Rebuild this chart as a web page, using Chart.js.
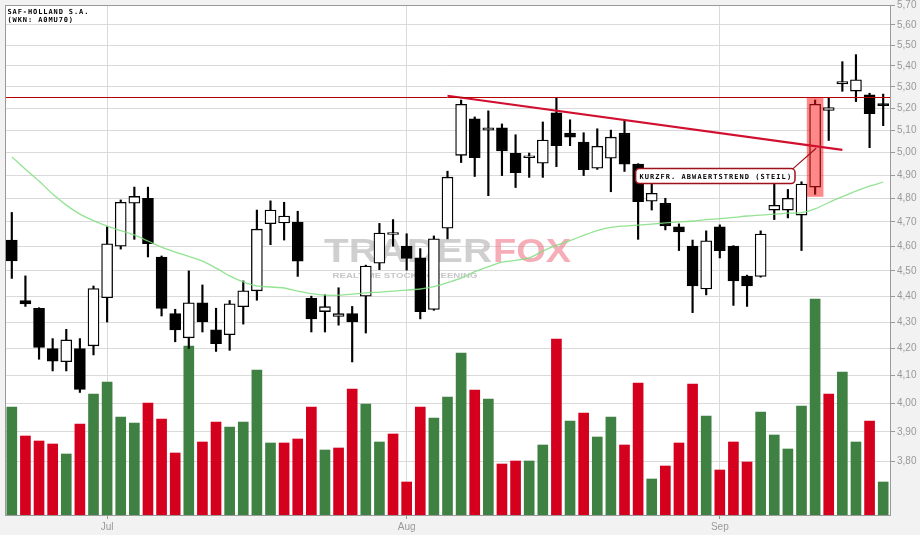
<!DOCTYPE html>
<html><head><meta charset="utf-8">
<script src="https://cdn.jsdelivr.net/npm/chart.js@4.4.1/dist/chart.umd.min.js"></script>
<style>html,body{margin:0;padding:0;background:#f2f2f2;}canvas{display:block;}</style>
</head><body>
<canvas id="c" width="920" height="535"></canvas>
<script>
// ---------- data ----------
const dates = [
 '21.06.2012','22.06.2012','25.06.2012','26.06.2012','27.06.2012','28.06.2012','29.06.2012',
 '02.07.2012','03.07.2012','04.07.2012','05.07.2012','06.07.2012','09.07.2012','10.07.2012','11.07.2012','12.07.2012','13.07.2012',
 '16.07.2012','17.07.2012','18.07.2012','19.07.2012','20.07.2012','23.07.2012','24.07.2012','25.07.2012','26.07.2012','27.07.2012',
 '30.07.2012','31.07.2012',
 '01.08.2012','02.08.2012','03.08.2012','06.08.2012','07.08.2012','08.08.2012','09.08.2012','10.08.2012','13.08.2012','14.08.2012',
 '15.08.2012','16.08.2012','17.08.2012','20.08.2012','21.08.2012','22.08.2012','23.08.2012','24.08.2012','27.08.2012','28.08.2012',
 '29.08.2012','30.08.2012','31.08.2012',
 '03.09.2012','04.09.2012','05.09.2012','06.09.2012','07.09.2012','10.09.2012','11.09.2012','12.09.2012','13.09.2012','14.09.2012',
 '17.09.2012','18.09.2012','19.09.2012'
];
const openP  = [4.625,4.383,4.353,4.20,4.151,4.20,4.21,4.394,4.60,4.779,4.80,4.556,4.332,4.24,4.374,4.27,4.252,4.359,4.421,4.693,4.696,4.70,4.391,4.34,4.321,4.332,4.40,4.531,4.648,4.60,4.553,4.348,4.674,4.987,5.151,5.10,5.11,4.996,4.976,4.952,5.179,5.086,5.046,4.93,4.974,5.086,4.948,4.788,4.779,4.68,4.60,4.428,4.68,4.60,4.479,4.478,4.75,4.75,4.729,4.848,5.19,5.314,5.28,5.262,5.218];
const highP  = [4.74,4.48,4.355,4.237,4.272,4.237,4.44,4.68,4.793,4.848,4.848,4.56,4.349,4.50,4.444,4.353,4.383,4.46,4.75,4.789,4.783,4.745,4.40,4.405,4.433,4.36,4.523,4.694,4.71,4.651,4.59,4.642,4.917,5.238,5.16,5.188,5.128,5.079,4.997,5.137,5.25,5.147,5.088,5.106,5.10,5.146,4.95,4.865,4.80,4.692,4.625,4.663,4.688,4.602,4.483,4.663,4.86,4.838,4.871,5.238,5.25,5.42,5.454,5.27,5.266];
const lowP   = [4.47,4.36,4.16,4.117,4.117,4.039,4.176,4.30,4.588,4.628,4.556,4.323,4.225,4.20,4.262,4.189,4.193,4.292,4.384,4.606,4.625,4.478,4.262,4.262,4.288,4.15,4.258,4.505,4.60,4.503,4.312,4.345,4.63,4.955,4.894,4.811,4.898,4.846,4.89,4.89,4.937,5.03,4.898,4.925,4.828,4.916,4.628,4.75,4.667,4.582,4.336,4.405,4.552,4.364,4.36,4.475,4.71,4.717,4.582,4.817,5.053,5.279,5.231,5.021,5.12];
const closeP = [4.54,4.37,4.204,4.153,4.232,4.05,4.43,4.61,4.783,4.808,4.61,4.352,4.27,4.374,4.30,4.218,4.37,4.421,4.67,4.75,4.725,4.539,4.312,4.359,4.332,4.30,4.519,4.654,4.653,4.55,4.34,4.63,4.891,5.218,4.977,5.11,5.007,4.911,4.98,5.055,5.03,5.068,4.924,5.027,5.068,4.948,4.786,4.821,4.684,4.659,4.44,4.622,4.582,4.46,4.44,4.65,4.77,4.80,4.861,5.218,5.203,5.325,5.333,5.175,5.212];
// relative trading volume (arbitrary units)
const volume = [108,79,74,71,61,91,121,133,98,92,112,96,62,169,73,93,88,93,145,72,72,76,108,65,67,126,111,73,81,33,108,97,118,162,125,116,51,54,54,70,176,94,102,78,98,70,132,36,49,72,131,99,45,73,53,103,80,66,109,216,121,143,73,94,33];
// 1 = volume bar green (close up), 0 = red (close down)
const volumeUp = [1,0,0,0,1,0,1,1,1,1,0,0,0,1,0,0,1,1,1,1,0,0,0,1,0,0,1,1,0,0,0,1,1,1,0,1,0,0,1,1,0,1,0,1,1,0,0,1,0,0,0,1,0,0,0,1,1,1,1,1,0,1,1,0,1];
const movingAvg = [4.980,4.926,4.874,4.818,4.771,4.733,4.706,4.683,4.664,4.646,4.621,4.596,4.576,4.558,4.539,4.511,4.480,4.456,4.440,4.436,4.432,4.420,4.410,4.404,4.404,4.408,4.413,4.416,4.420,4.424,4.428,4.437,4.453,4.471,4.497,4.517,4.535,4.542,4.552,4.580,4.603,4.623,4.644,4.664,4.677,4.683,4.687,4.691,4.696,4.700,4.704,4.710,4.714,4.719,4.725,4.729,4.733,4.737,4.739,4.755,4.782,4.807,4.831,4.852,4.870];
const priceTicks = [3.8,3.9,4.0,4.1,4.2,4.3,4.4,4.5,4.6,4.7,4.8,4.9,5.0,5.1,5.2,5.3,5.4,5.5,5.6,5.7];
const priceMin = 3.622, priceMax = 5.70;
const monthLabels = ['Jul','Aug','Sep'];
const monthStartDates = ['02.07.2012','01.08.2012','03.09.2012'];
const resistanceLevel = 5.25;
const trendStart = {date:'06.08.2012', value:5.258};
const trendEnd   = {date:'14.09.2012', value:5.011};
const highlightDate = '12.09.2012';
const titleLines = ['SAF-HOLLAND S.A.','(WKN: A0MU70)'];
const annotationText = 'KURZFR. ABWAERTSTREND (STEIL)';
const annotationFrom = '24.08.2012', annotationTo = '11.09.2012', annotationLevel = 4.90;

// ---------- derived ----------
const monthAt = {};
monthStartDates.forEach((d,k)=>{ monthAt[dates.indexOf(d)] = monthLabels[k]; });
const wickData = dates.map((d,i)=>[lowP[i], highP[i]]);
const bodyData = dates.map((d,i)=>[openP[i], closeP[i]]);
const trendData = dates.map(d => d===trendStart.date ? trendStart.value : (d===trendEnd.date ? trendEnd.value : null));

const FONT = '"Liberation Sans", Arial, sans-serif';

const bgPlugin = {
  id:'bg',
  beforeDraw(chart){
    const {ctx, chartArea:a} = chart;
    ctx.save();
    ctx.fillStyle = '#f2f2f2'; ctx.fillRect(0,0,chart.width,chart.height);
    ctx.fillStyle = '#ffffff'; ctx.fillRect(a.left,a.top,a.right-a.left,a.bottom-a.top);
    ctx.restore();
  }
};

function stretched(ctx, text, x, y, w, font){
  ctx.font = font;
  const m = ctx.measureText(text).width;
  ctx.save(); ctx.translate(x,y); ctx.scale(w/m,1); ctx.fillText(text,0,0); ctx.restore();
}

const watermark = {
  id:'watermark',
  beforeDatasetsDraw(chart){
    const {ctx, chartArea:a} = chart;
    const cx = (a.left+a.right)/2, cy = (a.top+a.bottom)/2;
    ctx.save();
    ctx.textBaseline = 'alphabetic';
    const g = ctx.createLinearGradient(0, cy-22, 0, cy+3);
    g.addColorStop(0,'rgba(195,195,195,0.8)');
    g.addColorStop(0.5,'rgba(160,160,160,0.8)');
    g.addColorStop(1,'rgba(120,120,120,0.8)');
    ctx.fillStyle = g;
    stretched(ctx,'TRADER', cx-123.5, cy+2.3, 168, 'bold 33px '+FONT);
    ctx.fillStyle = 'rgba(238,120,135,0.6)';
    stretched(ctx,'FOX', cx+45.5, cy+2.3, 78, 'bold 33px '+FONT);
    ctx.fillStyle = 'rgba(185,185,185,0.8)';
    stretched(ctx,'REALTIME STOCK SCREENING', cx-115, cy+17.5, 145, 'bold 8px '+FONT);
    ctx.restore();
  }
};

const highlight = {
  id:'highlight',
  afterDatasetDraw(chart, args){
    if (args.index !== 2) return;
    const {ctx} = chart;
    const xs = chart.scales.x, ys = chart.scales.y;
    const i = dates.indexOf(highlightDate);
    const x = xs.getPixelForValue(i);
    const top = ys.getPixelForValue(highP[i]) - 3;
    const bot = ys.getPixelForValue(lowP[i]) + 2.5;
    ctx.save();
    ctx.fillStyle = 'rgba(255,20,20,0.5)';
    ctx.fillRect(x-8.3, top, 16.6, bot-top);
    ctx.restore();
  }
};

const overlay = {
  id:'overlay',
  afterDatasetsDraw(chart){
    const {ctx, chartArea:a} = chart;
    const xs = chart.scales.x, ys = chart.scales.y;
    ctx.save();
    // resistance line
    const ry = Math.round(ys.getPixelForValue(resistanceLevel)) + 0.5;
    ctx.strokeStyle = '#b80000'; ctx.lineWidth = 1;
    ctx.beginPath(); ctx.moveTo(a.left, ry); ctx.lineTo(a.right, ry); ctx.stroke();

    // annotation
    const bx0 = xs.getPixelForValue(dates.indexOf(annotationFrom)) - 3;
    const bx1 = xs.getPixelForValue(dates.indexOf(annotationTo)) - 7;
    const by0 = ys.getPixelForValue(annotationLevel) - 7;
    const bh = 15;
    const hi = dates.indexOf(highlightDate);
    const tx0 = xs.getPixelForValue(dates.indexOf(trendStart.date)), ty0 = ys.getPixelForValue(trendStart.value);
    const tx1 = xs.getPixelForValue(dates.indexOf(trendEnd.date)), ty1 = ys.getPixelForValue(trendEnd.value);
    const hx = xs.getPixelForValue(hi) + 1;
    const hy = ty0 + (ty1-ty0)*(hx-tx0)/(tx1-tx0) + 2;
    ctx.strokeStyle = '#a0101a'; ctx.lineWidth = 1.2;
    ctx.beginPath(); ctx.moveTo(bx1-2, by0+1); ctx.lineTo(hx, hy); ctx.stroke();
    ctx.beginPath();
    ctx.roundRect(bx0+0.5, by0+0.5, bx1-bx0, bh, 4);
    ctx.fillStyle = '#ffffff'; ctx.fill();
    ctx.lineWidth = 1.5; ctx.strokeStyle = '#a0101a'; ctx.stroke();
    ctx.fillStyle = '#000';
    ctx.font = 'bold 7px "DejaVu Sans Mono", monospace';
    ctx.letterSpacing = '1.05px';
    ctx.textAlign = 'center'; ctx.textBaseline = 'alphabetic';
    ctx.fillText(annotationText, (bx0+bx1)/2 + 1, by0 + 11);

    // title
    ctx.textAlign = 'left';
    ctx.letterSpacing = '0.9px';
    ctx.fillText(titleLines[0], a.left + 2.5, a.top + 9.3);
    ctx.fillText(titleLines[1], a.left + 2.5, a.top + 17.3);
    ctx.restore();
  },
  afterDraw(chart){
    const {ctx, chartArea:a} = chart;
    ctx.save();
    ctx.strokeStyle = '#9a9a9a'; ctx.lineWidth = 1;
    ctx.strokeRect(a.left+0.5, a.top+0.5, a.right-a.left, a.bottom-a.top);
    ctx.restore();
  }
};

new Chart(document.getElementById('c'), {
  type:'bar',
  data:{
    labels: dates,
    datasets:[
      {type:'bar', label:'Volumen', data:volume, yAxisID:'yVol',
       backgroundColor: volumeUp.map(u => u ? '#3f8142' : '#d4001e'),
       barThickness:10, grouped:false, order:10},
      {type:'bar', label:'Docht', data:wickData, yAxisID:'y',
       backgroundColor:'#000', borderWidth:0, barThickness:1.5, grouped:false, order:4},
      {type:'bar', label:'Kerze', data:bodyData, yAxisID:'y',
       backgroundColor: closeP.map((c,i)=> c>=openP[i] ? '#ffffff' : '#000000'),
       borderColor:'#000', borderWidth:1.3, borderSkipped:false, minBarLength:2,
       barThickness:11, grouped:false, order:3},
      {type:'line', label:'GD', data:movingAvg, yAxisID:'y',
       borderColor:'rgba(128,222,128,0.85)', borderWidth:1.3, pointRadius:0, tension:0.3, order:2},
      {type:'line', label:'Trend', data:trendData, yAxisID:'y', spanGaps:true,
       borderColor:'#d1102f', borderWidth:2.2, pointRadius:0, order:1}
    ]
  },
  options:{
    responsive:false, animation:false, devicePixelRatio:1,
    layout:{padding:{top:5,left:5,right:0,bottom:0}},
    plugins:{legend:{display:false}, tooltip:{enabled:false}},
    scales:{
      x:{
        type:'category', offset:true,
        grid:{offset:false, lineWidth:1,
              color: c => monthAt[c.index] ? '#dadada' : 'rgba(0,0,0,0)',
              tickColor: c => monthAt[c.index] ? '#999' : 'rgba(0,0,0,0)',
              tickLength:4, drawTicks:true},
        border:{display:true, color:'#999'},
        ticks:{autoSkip:false, maxRotation:0, minRotation:0, padding:2, color:'#999',
               font:{family:FONT, size:10}, callback:(v,i)=> monthAt[i] || ''},
        afterFit: s => { s.height = 20; s.paddingLeft = 0; s.paddingRight = 0; }
      },
      y:{
        type:'logarithmic', position:'right', min:priceMin, max:priceMax,
        afterBuildTicks: s => { s.ticks = priceTicks.map(v => ({value:v})); },
        grid:{color:'#dadada', tickColor:'#999', tickLength:5, lineWidth:1},
        border:{display:true, color:'#999'},
        ticks:{autoSkip:false, padding:2, color:'#999', font:{family:FONT, size:10},
               callback: v => Number(v).toFixed(2).replace('.', ',')},
        afterFit: s => { s.width = 30; s.paddingTop = 0; s.paddingBottom = 0; }
      },
      yVol:{type:'linear', display:false, min:0, max:510}
    }
  },
  plugins:[bgPlugin, watermark, highlight, overlay]
});
</script>
</body></html>
